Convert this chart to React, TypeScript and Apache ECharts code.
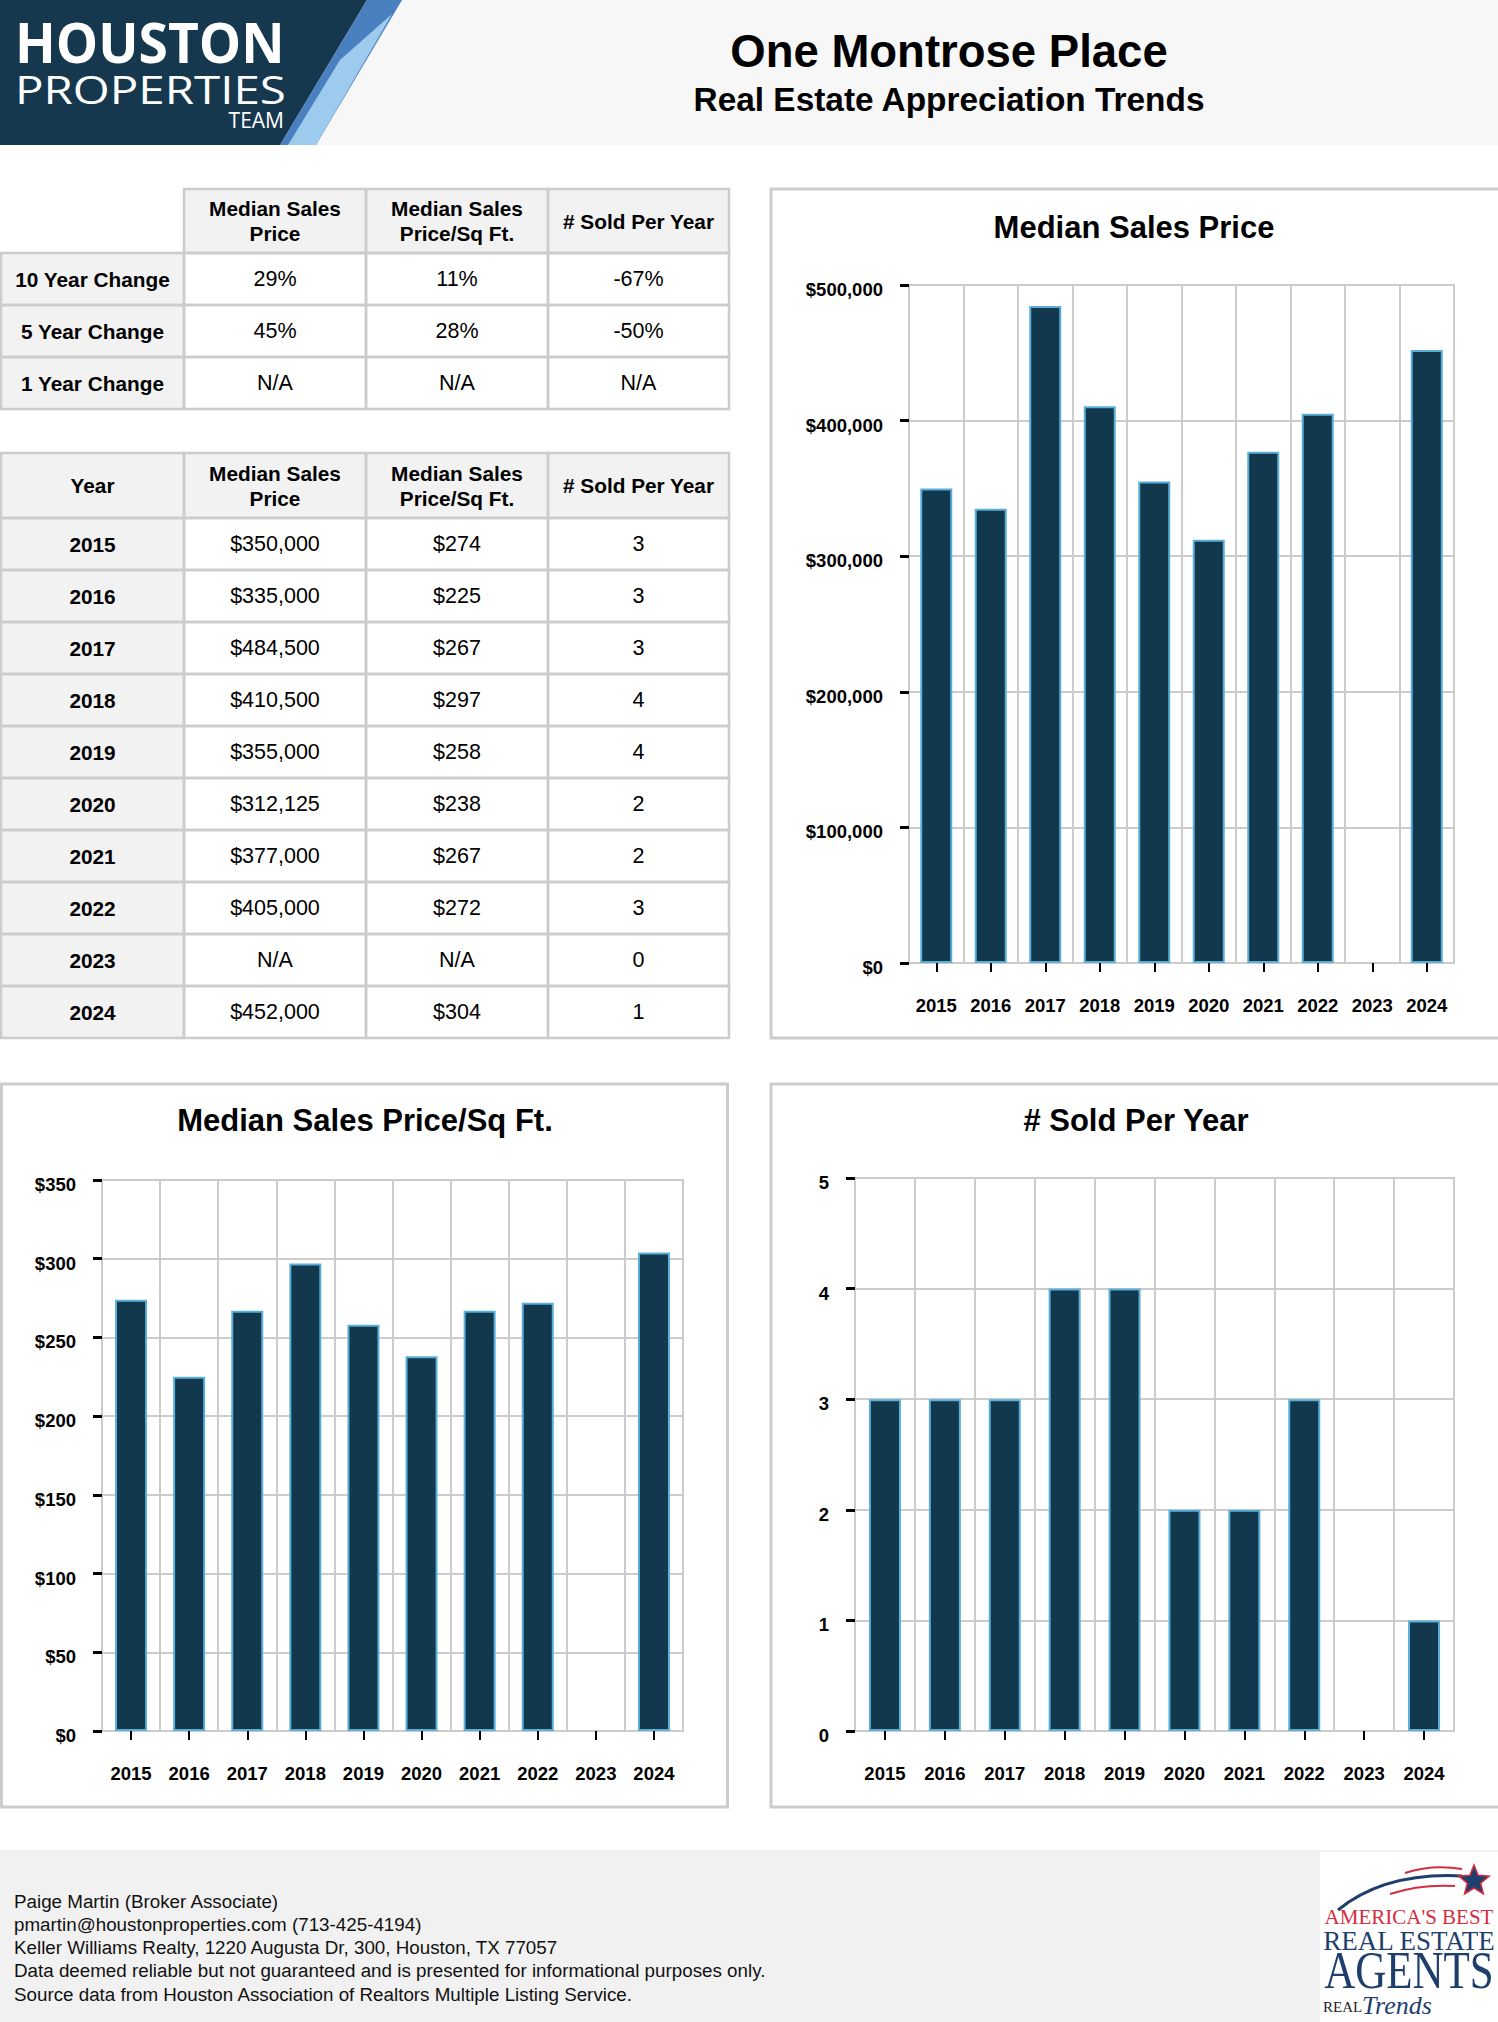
import React, { useEffect, useRef } from 'react';
import * as echarts from 'echarts';

// ---------------- DATA ----------------
const years = ['2015', '2016', '2017', '2018', '2019', '2020', '2021', '2022', '2023', '2024'];
const medianPrice: (number | null)[] = [350000, 335000, 484500, 410500, 355000, 312125, 377000, 405000, null, 452000];
const pricePerSqFt: (number | null)[] = [274, 225, 267, 297, 258, 238, 267, 272, null, 304];
const soldPerYear: number[] = [3, 3, 3, 4, 4, 2, 2, 3, 0, 1];

const changeLabels = ['10 Year Change', '5 Year Change', '1 Year Change'];
const changePrice = ['29%', '45%', 'N/A'];
const changePriceSqFt = ['11%', '28%', 'N/A'];
const changeSold = ['-67%', '-50%', 'N/A'];

const tableHeaders = ['Median Sales\nPrice', 'Median Sales\nPrice/Sq Ft.', '# Sold Per Year'];
const chartTitles = ['Median Sales Price', 'Median Sales Price/Sq Ft.', '# Sold Per Year'];

const pageTitle = 'One Montrose Place';
const pageSubtitle = 'Real Estate Appreciation Trends';

const footerLines = [
  'Paige Martin (Broker Associate)',
  'pmartin@houstonproperties.com (713-425-4194)',
  'Keller Williams Realty, 1220 Augusta Dr, 300, Houston, TX 77057',
  'Data deemed reliable but not guaranteed and is presented for informational purposes only.',
  'Source data from Houston Association of Realtors Multiple Listing Service.',
];

// ---------------- STYLE ----------------
const FONT = "'Liberation Sans', Arial, Helvetica, sans-serif";
const SERIF = "'Liberation Serif', 'DejaVu Serif', serif";
const NAVY = '#12384e';
const BAR_BORDER = '#5aaed8';
const GRID = '#cccccc';
const CELL_GREY = '#f2f2f2';

const money = (v: number | null) => (v == null ? 'N/A' : '$' + v.toLocaleString('en-US'));

function buildTable(
  top: number,
  headerH: number,
  rowH: number,
  firstHeader: string | null,
  rowLabels: string[],
  cols: string[][]
) {
  const edges = [1, 184, 366, 548, 729];
  const fills: any[] = [];
  const strokes: any[] = [];
  const texts: any[] = [];
  const cell = (x: number, y: number, w: number, h: number, fill: string) => {
    fills.push({ type: 'rect', silent: true, shape: { x, y, width: w, height: h }, style: { fill } });
    strokes.push({
      type: 'rect',
      silent: true,
      shape: { x, y, width: w, height: h },
      style: { fill: 'none', stroke: GRID, lineWidth: 2.5 },
    });
  };
  const txt = (x: number, y: number, text: string, bold: boolean) => {
    texts.push({
      type: 'text',
      silent: true,
      x,
      y,
      style: {
        text,
        fill: '#000',
        fontSize: bold ? 20.8 : 21.5,
        fontWeight: bold ? 'bold' : 'normal',
        fontFamily: FONT,
        textAlign: 'center',
        textVerticalAlign: 'middle',
        lineHeight: 25,
      },
    });
  };
  for (let c = 0; c < 4; c++) {
    if (c === 0 && firstHeader === null) continue;
    const x = edges[c];
    const w = edges[c + 1] - edges[c];
    cell(x, top, w, headerH, CELL_GREY);
    txt(x + w / 2, top + headerH / 2, c === 0 ? (firstHeader as string) : tableHeaders[c - 1], true);
  }
  for (let r = 0; r < rowLabels.length; r++) {
    const y = top + headerH + r * rowH;
    for (let c = 0; c < 4; c++) {
      const x = edges[c];
      const w = edges[c + 1] - edges[c];
      cell(x, y, w, rowH, c === 0 ? CELL_GREY : '#ffffff');
      txt(x + w / 2, y + rowH / 2, c === 0 ? rowLabels[r] : cols[c - 1][r], c === 0);
    }
  }
  return [...fills, ...strokes, ...texts];
}

function starPoints(cx: number, cy: number, R: number, r: number) {
  const pts: number[][] = [];
  for (let i = 0; i < 10; i++) {
    const ang = -Math.PI / 2 + (i * Math.PI) / 5;
    const rad = i % 2 === 0 ? R : r;
    pts.push([cx + rad * Math.cos(ang), cy + rad * Math.sin(ang)]);
  }
  return pts;
}

function xAxisCfg(i: number) {
  return {
    gridIndex: i,
    type: 'category',
    data: years,
    boundaryGap: true,
    offset: 3,
    axisLine: { show: false },
    axisTick: { show: true, alignWithLabel: true, length: 9, lineStyle: { color: '#000', width: 2 } },
    axisLabel: { interval: 0, margin: 30, fontSize: 18.5, fontWeight: 'bold', color: '#000', fontFamily: FONT },
    splitLine: { show: true, interval: 0, lineStyle: { color: GRID, width: 2 } },
  };
}

function yAxisCfg(i: number, max: number, interval: number, fmt: (v: number) => string) {
  return {
    gridIndex: i,
    type: 'value',
    min: 0,
    max,
    interval,
    axisLine: { show: false },
    axisTick: { show: true, length: 9, lineStyle: { color: '#000', width: 3 } },
    axisLabel: {
      margin: 26,
      fontSize: 18.5,
      fontWeight: 'bold',
      color: '#000',
      fontFamily: FONT,
      formatter: fmt,
      verticalAlign: 'top',
      lineHeight: 9,
    },
    splitLine: { show: true, lineStyle: { color: GRID, width: 2 } },
  };
}

function barSeries(i: number, data: (number | null)[]) {
  return {
    type: 'bar',
    xAxisIndex: i,
    yAxisIndex: i,
    barWidth: 32,
    data: data.map((v) => (v === 0 ? { value: 0, itemStyle: { borderWidth: 0, opacity: 0 } } : v)),
    itemStyle: { color: NAVY, borderColor: BAR_BORDER, borderWidth: 2 },
  };
}

export default function App() {
  const ref = useRef<HTMLDivElement>(null);
  useEffect(() => {
    if (!ref.current) return;
    const chart = echarts.init(ref.current, undefined, { renderer: 'svg' });

    const graphics: any[] = [];

    // Header band
    graphics.push({ type: 'rect', silent: true, shape: { x: 0, y: 0, width: 1498, height: 145 }, style: { fill: '#f7f7f7' } });
    graphics.push({ type: 'polygon', silent: true, shape: { points: [[0, 0], [367, 0], [280, 145], [0, 145]] }, style: { fill: '#15384f' } });
    graphics.push({ type: 'polygon', silent: true, shape: { points: [[367, 0], [402, 0], [316, 145], [280, 145]] }, style: { fill: '#4a80bf' } });
    graphics.push({ type: 'polygon', silent: true, shape: { points: [[392, 14], [316, 145], [288, 145], [340, 60]] }, style: { fill: '#9ccbee' } });
    graphics.push({
      type: 'text', silent: true, x: 15, y: 42, scaleX: 0.97,
      style: { text: 'HOUSTON', fill: '#fff', fontSize: 55, fontWeight: 'bold', fontFamily: "'Open Sans', " + FONT, textVerticalAlign: 'middle' },
    });
    graphics.push({
      type: 'text', silent: true, x: 15, y: 89, scaleX: 1.25,
      style: { text: 'PROPERTIES', fill: '#fff', fontSize: 38, fontWeight: 'normal', fontFamily: "'Open Sans', " + FONT, textVerticalAlign: 'middle' },
    });
    graphics.push({
      type: 'line', silent: true, shape: { x1: 22, y1: 120, x2: 214, y2: 120 },
      style: {
        lineWidth: 2,
        stroke: new echarts.graphic.LinearGradient(0, 0, 1, 0, [
          { offset: 0, color: 'rgba(255,255,255,0.1)' },
          { offset: 1, color: 'rgba(255,255,255,1)' },
        ]),
      },
    });
    graphics.push({
      type: 'text', silent: true, x: 284, y: 120,
      style: { text: 'TEAM', fill: '#fff', fontSize: 21, fontFamily: "'Open Sans', " + FONT, textAlign: 'right', textVerticalAlign: 'middle' },
    });
    graphics.push({
      type: 'text', silent: true, x: 949, y: 51,
      style: { text: pageTitle, fill: '#000', fontSize: 45.5, fontWeight: 'bold', fontFamily: FONT, textAlign: 'center', textVerticalAlign: 'middle' },
    });
    graphics.push({
      type: 'text', silent: true, x: 949, y: 99,
      style: { text: pageSubtitle, fill: '#000', fontSize: 33.4, fontWeight: 'bold', fontFamily: FONT, textAlign: 'center', textVerticalAlign: 'middle' },
    });

    // Tables
    graphics.push(
      ...buildTable(189, 64, 52, null, changeLabels, [changePrice, changePriceSqFt, changeSold])
    );
    graphics.push(
      ...buildTable(453, 65, 52, 'Year', years, [
        medianPrice.map(money),
        pricePerSqFt.map(money),
        soldPerYear.map((v) => String(v)),
      ])
    );

    // Chart panels
    const panels = [
      { x: 771, y: 189, w: 730, h: 849, tx: 1134, ty: 227 },
      { x: 1.5, y: 1084, w: 726, h: 723, tx: 365, ty: 1120 },
      { x: 771, y: 1084, w: 730, h: 723, tx: 1136, ty: 1120 },
    ];
    panels.forEach((p, i) => {
      graphics.push({
        type: 'rect', silent: true, shape: { x: p.x, y: p.y, width: p.w, height: p.h },
        style: { fill: 'none', stroke: GRID, lineWidth: 3 },
      });
      graphics.push({
        type: 'text', silent: true, x: p.tx, y: p.ty,
        style: { text: chartTitles[i], fill: '#000', fontSize: 31, fontWeight: 'bold', fontFamily: FONT, textAlign: 'center', textVerticalAlign: 'middle' },
      });
    });

    // Footer
    graphics.push({ type: 'rect', silent: true, shape: { x: 0, y: 1850, width: 1498, height: 172 }, style: { fill: '#f1f1f1' } });
    footerLines.forEach((t, i) => {
      graphics.push({
        type: 'text', silent: true, x: 14, y: 1901 + i * 23.3,
        style: { text: t, fill: '#111', fontSize: 18.8, fontFamily: FONT, textVerticalAlign: 'middle' },
      });
    });

    // Footer logo
    graphics.push({ type: 'rect', silent: true, shape: { x: 1320, y: 1852, width: 178, height: 170 }, style: { fill: '#ffffff' } });
    graphics.push({
      type: 'bezierCurve', silent: true,
      shape: { x1: 1338, y1: 1910, x2: 1462, y2: 1876, cpx1: 1385, cpy1: 1872 },
      style: { stroke: '#1f3f6e', lineWidth: 3, fill: 'none' },
    });
    graphics.push({
      type: 'bezierCurve', silent: true,
      shape: { x1: 1405, y1: 1873, x2: 1462, y2: 1869, cpx1: 1432, cpy1: 1864 },
      style: { stroke: '#d62d3f', lineWidth: 2, fill: 'none' },
    });
    graphics.push({
      type: 'bezierCurve', silent: true,
      shape: { x1: 1390, y1: 1894, x2: 1455, y2: 1886, cpx1: 1420, cpy1: 1884 },
      style: { stroke: '#d62d3f', lineWidth: 2, fill: 'none' },
    });
    graphics.push({
      type: 'polygon', silent: true, shape: { points: starPoints(1474, 1881, 16, 7) },
      style: { fill: '#1f3f6e', stroke: '#d62d3f', lineWidth: 1.5 },
    });
    graphics.push({
      type: 'text', silent: true, x: 1409, y: 1917,
      style: { text: "AMERICA'S BEST", fill: '#d62d3f', fontSize: 21, fontFamily: SERIF, textAlign: 'center', textVerticalAlign: 'middle' },
    });
    graphics.push({
      type: 'text', silent: true, x: 1409, y: 1941,
      style: { text: 'REAL ESTATE', fill: '#1e3f6c', fontSize: 27, fontFamily: SERIF, textAlign: 'center', textVerticalAlign: 'middle' },
    });
    graphics.push({
      type: 'text', silent: true, x: 1409, y: 1970, scaleY: 1.25,
      style: { text: 'AGENTS', fill: '#1e3f6c', fontSize: 43, fontFamily: SERIF, textAlign: 'center', textVerticalAlign: 'middle' },
    });
    graphics.push({
      type: 'text', silent: true, x: 1323, y: 2007,
      style: { text: 'REAL', fill: '#222', fontSize: 15, fontFamily: SERIF, textVerticalAlign: 'middle' },
    });
    graphics.push({
      type: 'text', silent: true, x: 1362, y: 2005,
      style: { text: 'Trends', fill: '#1e3f6c', fontSize: 26, fontStyle: 'italic', fontFamily: SERIF, textVerticalAlign: 'middle' },
    });

    const option: any = {
      animation: false,
      backgroundColor: '#ffffff',
      textStyle: { fontFamily: FONT },
      grid: [
        { left: 909, top: 285, width: 545, height: 678, show: true, borderColor: GRID, borderWidth: 2 },
        { left: 102, top: 1180, width: 581, height: 551, show: true, borderColor: GRID, borderWidth: 2 },
        { left: 855, top: 1178, width: 599, height: 553, show: true, borderColor: GRID, borderWidth: 2 },
      ],
      xAxis: [xAxisCfg(0), xAxisCfg(1), xAxisCfg(2)],
      yAxis: [
        yAxisCfg(0, 500000, 100000, (v: number) => '$' + v.toLocaleString('en-US')),
        yAxisCfg(1, 350, 50, (v: number) => '$' + v),
        yAxisCfg(2, 5, 1, (v: number) => String(v)),
      ],
      series: [barSeries(0, medianPrice), barSeries(1, pricePerSqFt), barSeries(2, soldPerYear)],
      graphic: { elements: graphics },
    };
    chart.setOption(option);
    return () => chart.dispose();
  }, []);
  return <div ref={ref} style={{ position: 'absolute', left: 0, top: 0, width: 1498, height: 2022 }} />;
}
